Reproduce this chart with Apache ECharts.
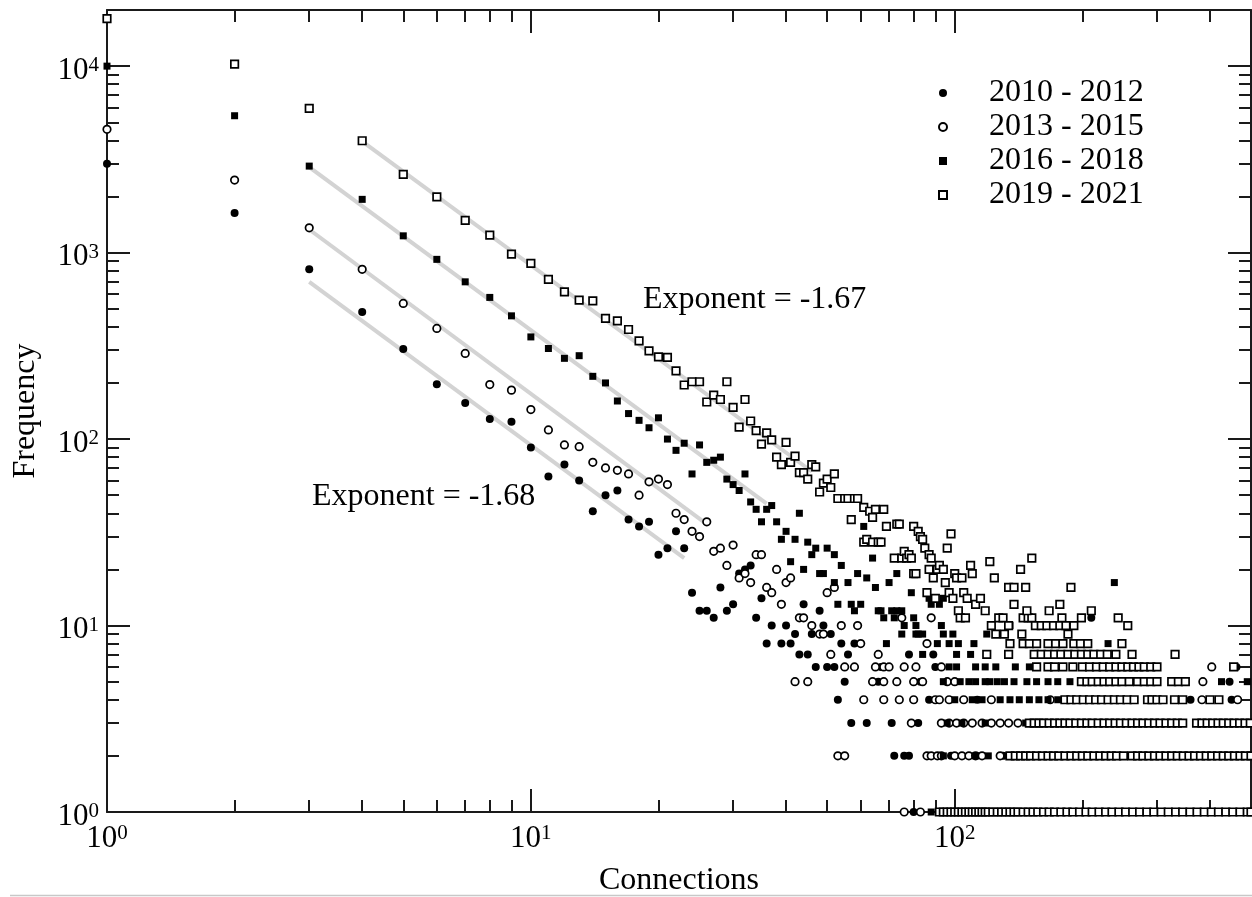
<!DOCTYPE html>
<html>
<head>
<meta charset="utf-8">
<script src="https://cdn.jsdelivr.net/npm/echarts@6/dist/echarts.min.js"></script>
<style>
html,body{margin:0;padding:0;background:#fff;}
#chart{width:1252px;height:897px;}
</style>
</head>
<body>
<div id="chart"></div>
<script>
// ---------- DATA ----------
const seriesNames = ['2010 - 2012', '2013 - 2015', '2016 - 2018', '2019 - 2021'];
const xMajorTicks = [1, 10, 100];
const xMinorTicks = [2,3,4,5,6,7,8,9,20,30,40,50,60,70,80,90,200,300,400];
const yMajorTicks = [1, 10, 100, 1000, 10000];
const yMinorTicks = [2,3,4,5,6,7,8,9,20,30,40,50,60,70,80,90,200,300,400,500,600,700,800,900,2000,3000,4000,5000,6000,7000,8000,9000];
const annotations = ['Exponent = -1.67', 'Exponent = -1.68'];

// 2010 - 2012 (filled circles) [connections, frequency]
const s2010 = [[1,3000],[2,1630],[3,815],[4,480],[5,304],[6,197],[7,156],[8,128],[9,124],[10,90],[11,63],[12,73],[13,60],[14,41],[15,50],[16,53],[17,37],[18,34],[19,36],[20,24],[21,26],[22,32],[23,26],[24,15],[25,12],[26,12],[27,11],[28,16],[29,12],[30,13],[31,19],[32,20],[33,21],[34,11],[35,14],[36,8],[37,10],[39,8],[40,10],[41,8],[42,9],[43,7],[44,13],[45,7],[46,9],[47,6],[48,12],[49,10],[50,6],[51,9],[52,6],[53,4],[54,8],[55,5],[56,7],[57,3],[58,8],[62,3],[66,5],[67,6],[71,3],[72,2],[76,2],[78,2],[78,7],[80,1],[82,3],[83,5],[87,4],[89,7],[90,6],[98,2],[113,4],[130,2],[210,11],[360,4],[445,5],[450,4],[462,6]];

// 2013 - 2015 (open circles)
const s2013 = [[1,4580],[2,2450],[3,1358],[4,813],[5,534],[6,392],[7,288],[8,196],[9,183],[10,144],[11,112],[12,93],[13,91],[14,75],[15,70],[16,68],[17,65],[18,50],[19,59],[20,61],[21,57],[22,40],[23,37],[24,32],[25,30],[26,36],[27,25],[28,26],[29,21],[30,27],[31,18],[32,19],[33,17],[34,24],[35,24],[36,16],[37,15],[38,20],[39,13],[40,17],[41,18],[42,5],[43,11],[44,11],[45,5],[46,10],[48,9],[49,9],[50,15],[51,7],[52,16],[53,2],[54,10],[55,6],[55,2],[58,6],[59,10],[60,8],[61,4],[64,5],[65,6],[66,7],[68,6],[68,5],[68,4],[70,6],[73,5],[74,4],[75,11],[76,1],[76,6],[79,3],[80,4],[80,5],[81,6],[83,1],[84,5],[86,8],[86,2],[88,11],[88,2],[90,4],[91,2],[92,4],[93,3],[93,6],[93,2],[96,5],[97,3],[97,4],[100,5],[100,2],[101,3],[104,2],[105,3],[105,4],[108,2],[110,3],[112,2],[116,3],[116,2],[122,3],[122,4],[128,3],[128,2],[134,3],[141,3],[168,4],[383,4],[385,5],[404,6],[465,4]];

// 2016 - 2018 (filled squares)
const s2016 = [[1,10000],[2,5420],[3,2910],[4,1930],[5,1230],[6,920],[7,697],[8,575],[9,458],[10,353],[11,306],[12,271],[13,280],[14,217],[15,200],[16,160],[17,137],[18,126],[19,115],[20,130],[21,100],[22,87],[23,95],[24,65],[25,93],[26,75],[27,77],[28,80],[29,61],[30,57],[31,53],[32,65],[33,46],[34,42],[35,36],[36,42],[37,44],[38,36],[39,29],[40,32],[41,22],[42,29],[43,40],[44,20],[45,28],[46,24],[47,26],[48,19],[49,19],[50,26],[52,24],[52,17],[53,13],[54,21],[56,17],[57,13],[58,12],[59,19],[60,13],[61,34],[62,18],[64,23],[65,16],[66,12],[67,12],[68,11],[69,8],[70,17],[71,12],[72,11],[73,12],[73,19],[75,9],[75,12],[76,10],[79,15],[80,11],[81,10],[81,9],[82,9],[84,9],[84,7],[87,14],[88,13],[91,8],[92,13],[93,10],[94,14],[94,9],[94,5],[97,8],[97,6],[99,9],[100,4],[101,7],[101,6],[102,8],[103,5],[108,5],[109,7],[110,4],[111,8],[112,6],[112,5],[116,4],[118,6],[118,5],[119,9],[121,5],[125,6],[126,5],[128,4],[131,5],[135,4],[135,10],[138,5],[139,6],[142,4],[148,5],[150,6],[150,4],[156,5],[158,4],[160,7],[166,5],[166,4],[175,5],[175,4],[185,4],[187,5],[195,4],[205,4],[215,4],[230,8],[238,17],[426,5],[490,5],[96,3],[104,3],[118,3],[147,3],[190,3],[260,3],[94,2],[112,2],[120,2],[133,2],[148,2],[170,2],[200,2],[230,2],[310,2],[410,2],[88,1],[93,1],[99,1],[107,1],[115,1],[125,1],[137,1],[152,1],[168,1],[190,1],[215,1],[240,1],[280,1],[330,1],[390,1],[450,1]];

// 2019 - 2021 (open squares)
const s2019 = [[1,18000],[2,10260],[3,5940],[4,3980],[5,2630],[6,1990],[7,1490],[8,1240],[9,982],[10,875],[11,718],[12,616],[13,556],[14,551],[15,444],[16,430],[17,387],[18,336],[19,297],[20,276],[21,274],[22,232],[23,195],[24,203],[25,203],[26,158],[27,172],[28,163],[29,203],[30,148],[31,116],[32,163],[33,125],[34,111],[35,94],[36,108],[37,99],[38,80],[39,73],[40,96],[41,75],[42,81],[43,66],[44,66],[45,61],[46,73],[47,71],[48,52],[49,58],[50,61],[51,55],[52,65],[53,48],[55,48],[56,48],[57,37],[58,48],[59,48],[61,43],[61,28],[62,29],[63,41],[64,38],[64,28],[65,42],[66,28],[67,28],[68,42],[69,34],[72,23],[73,35],[74,35],[75,23],[76,25],[77,23],[78,24],[79,23],[80,34],[80,19],[81,19],[82,32],[83,30],[84,29],[85,26],[86,15],[87,24],[88,23],[87,20],[89,18],[90,14],[91,20],[92,21],[94,20],[95,17],[96,26],[97,15],[98,31],[99,14],[100,19],[101,18],[102,12],[104,18],[105,15],[107,14],[109,21],[110,19],[112,13],[115,14],[118,12],[121,22],[124,18],[143,20],[152,23],
[103,11],[106,11],[127,11],[130,11],[145,11],[149,11],[152,11],[179,11],[199,11],[243,11],
[148,12],[167,12],[210,12],[138,13],[177,13],[134,16],[138,16],[147,16],[188,16],
[122,10],[134,10],[155,10],[160,10],[165,10],[171,10],[177,10],[183,10],[191,10],[256,10],
[125,9],[131,9],[144,9],[185,9],
[135,8],[145,8],[150,8],[156,8],[166,8],[173,8],[180,8],[191,8],[198,8],[206,8],[248,8],
[119,7],[134,7],[154,7],[160,7],[166,7],[172,7],[178,7],[185,7],[192,7],[199,7],[206,7],[213,7],[221,7],[229,7],[240,7],[262,7],[331,7],
[156,6],[166,6],[172,6],[180,6],[190,6],[200,6],[208,6],[216,6],[224,6],[232,6],[240,6],[248,6],[256,6],[264,6],[272,6],[280,6],[290,6],[300,6],[455,6],
[199,5],[205,5],[211,5],[218,5],[225,5],[232,5],[240,5],[248,5],[258,5],[270,5],[280,5],[290,5],[300,5],[325,5],[337,5],[350,5],
[182,4],[188,4],[194,4],[201,4],[208,4],[215,4],[222,4],[230,4],[238,4],[246,4],[255,4],[265,4],[285,4],[292,4],[300,4],[310,4],[330,4],[345,4],[400,4],[420,4],
[150,3],[154,3],[158,3],[162,3],[167,3],[172,3],[177,3],[182,3],[187,3],[193,3],[199,3],[205,3],[211,3],[218,3],[225,3],[232,3],[239,3],[246,3],[254,3],[262,3],[270,3],[278,3],[287,3],[296,3],[305,3],[315,3],[325,3],[335,3],[345,3],[372,3],[383,3],[394,3],[406,3],[418,3],[430,3],[443,3],[456,3],[470,3],[484,3],[498,3],
[135,2],[139,2],[143,2],[147,2],[151,2],[156,2],[161,2],[166,2],[171,2],[176,2],[182,2],[188,2],[194,2],[200,2],[206,2],[213,2],[220,2],[227,2],[234,2],[241,2],[250,2],[262,2],[270,2],[278,2],[287,2],[296,2],[305,2],[315,2],[325,2],[335,2],[346,2],[357,2],[368,2],[380,2],[392,2],[404,2],[417,2],[430,2],[443,2],[457,2],[471,2],[485,2],[500,2],
[92,1],[94,1],[96,1],[98,1],[100,1],[102,1],[104,1],[106,1],[108,1],[110,1],[112,1],[114,1],[116,1],[118,1],[120,1],[123,1],[126,1],[129,1],[132,1],[135,1],[138,1],[141,1],[145,1],[149,1],[153,1],[157,1],[162,1],[167,1],[172,1],[178,1],[184,1],[190,1],[197,1],[204,1],[211,1],[219,1],[227,1],[235,1],[244,1],[253,1],[263,1],[273,1],[284,1],[295,1],[307,1],[319,1],[332,1],[345,1],[359,1],[373,1],[388,1],[403,1],[419,1],[436,1],[453,1],[471,1],[490,1],[500,1]];

// Fitted power-law guide lines (end points)
const fit2019 = [[4,3950],[46,67]];
const fit2016 = [[3,2876],[36,45]];
const fit2013 = [[3,1330],[26,35]];
const fit2010 = [[3,697],[23,23]];

// ---------- CHART ----------
const FONT = 'Liberation Serif';
const chart = echarts.init(document.getElementById('chart'), null, {renderer: 'canvas'});

function supLabel(v) {
  const e = Math.round(Math.log10(v));
  return '{b|10}{s|' + e + '}';
}
function richStyle() {
  return {
    b: {fontFamily: FONT, fontSize: 31, lineHeight: 31, verticalAlign: 'bottom', color: '#000'},
    s: {fontFamily: FONT, fontSize: 21, lineHeight: 21, verticalAlign: 'top', padding: [0, 0, 17, 0], color: '#000'}
  };
}
const AXC = '#1a1a1a';
function logAxis(kind, position, major, showLine, showLabel) {
  const isX = kind === 'x';
  const ax = {
    type: 'log', logBase: 10,
    min: 1, max: isX ? 500 : 20000,
    position: position,
    gridIndex: 0,
    axisLine: {show: showLine, onZero: false, lineStyle: {color: AXC, width: 2}},
    axisTick: {show: true, inside: true, length: major ? 23 : 12,
      customValues: isX ? (major ? xMajorTicks : xMinorTicks) : (major ? yMajorTicks : yMinorTicks),
      lineStyle: {color: AXC, width: 2}},
    minorTick: {show: false},
    splitLine: {show: false},
    minorSplitLine: {show: false},
    axisLabel: {show: false}
  };
  if (showLabel) {
    ax.axisLabel = {
      show: true,
      customValues: isX ? xMajorTicks : yMajorTicks,
      formatter: supLabel,
      rich: richStyle(),
      margin: isX ? 11 : 8,
      padding: isX ? 0 : [9, 0, 0, 0]
    };
  }
  return ax;
}

const option = {
  animation: false,
  backgroundColor: '#fff',
  grid: {left: 107, top: 10, width: 1144, height: 802, containLabel: false},
  xAxis: [
    logAxis('x', 'bottom', true, true, true),
    logAxis('x', 'bottom', false, false, false),
    logAxis('x', 'top', true, true, false),
    logAxis('x', 'top', false, false, false)
  ],
  yAxis: [
    logAxis('y', 'left', true, true, true),
    logAxis('y', 'left', false, false, false),
    logAxis('y', 'right', true, true, false),
    logAxis('y', 'right', false, false, false)
  ],
  legend: {
    data: seriesNames,
    orient: 'vertical',
    left: 933, top: 71,
    itemWidth: 8, itemHeight: 8,
    itemGap: 0,
    selectedMode: false,
    textStyle: {fontFamily: FONT, fontSize: 32, color: '#000', lineHeight: 34, padding: [0, 0, 0, 37]}
  },
  series: [
    {type: 'line', data: fit2019, symbol: 'none', silent: true, z: 1, lineStyle: {color: '#d3d3d3', width: 4}},
    {type: 'line', data: fit2016, symbol: 'none', silent: true, z: 1, lineStyle: {color: '#d3d3d3', width: 4}},
    {type: 'line', data: fit2013, symbol: 'none', silent: true, z: 1, lineStyle: {color: '#d3d3d3', width: 4}},
    {type: 'line', data: fit2010, symbol: 'none', silent: true, z: 1, lineStyle: {color: '#d3d3d3', width: 4}},
    {name: seriesNames[0], type: 'scatter', data: s2010, symbol: 'circle', symbolSize: 8, z: 3,
      itemStyle: {color: '#000', opacity: 1}},
    {name: seriesNames[1], type: 'scatter', data: s2013, symbol: 'circle', symbolSize: 7.5, z: 3,
      itemStyle: {color: '#fff', borderColor: '#000', borderWidth: 1.7, opacity: 1}},
    {name: seriesNames[2], type: 'scatter', data: s2016, symbol: 'rect', symbolSize: 7, z: 3,
      itemStyle: {color: '#000', opacity: 1}},
    {name: seriesNames[3], type: 'scatter', data: s2019, symbol: 'rect', symbolSize: 7.5, z: 3,
      itemStyle: {color: '#fff', borderColor: '#000', borderWidth: 1.7, opacity: 1}}
  ],
  graphic: [
    {type: 'text', left: 643, top: 284, silent: true,
      style: {text: annotations[0], fontFamily: FONT, fontSize: 32, fill: '#000'}},
    {type: 'text', left: 312, top: 481, silent: true,
      style: {text: annotations[1], fontFamily: FONT, fontSize: 32, fill: '#000'}},
    {type: 'text', x: 26, y: 411, rotation: Math.PI / 2, silent: true,
      style: {text: 'Frequency', fontFamily: FONT, fontSize: 32, fill: '#000', align: 'center', verticalAlign: 'middle'}},
    {type: 'text', x: 679, y: 881, silent: true,
      style: {text: 'Connections', fontFamily: FONT, fontSize: 32, fill: '#000', align: 'center', verticalAlign: 'middle'}},
    {type: 'line', silent: true, shape: {x1: 10, y1: 895.5, x2: 1252, y2: 895.5},
      style: {stroke: '#c8c8c8', lineWidth: 1.5}}
  ]
};
chart.setOption(option);
</script>
</body>
</html>
